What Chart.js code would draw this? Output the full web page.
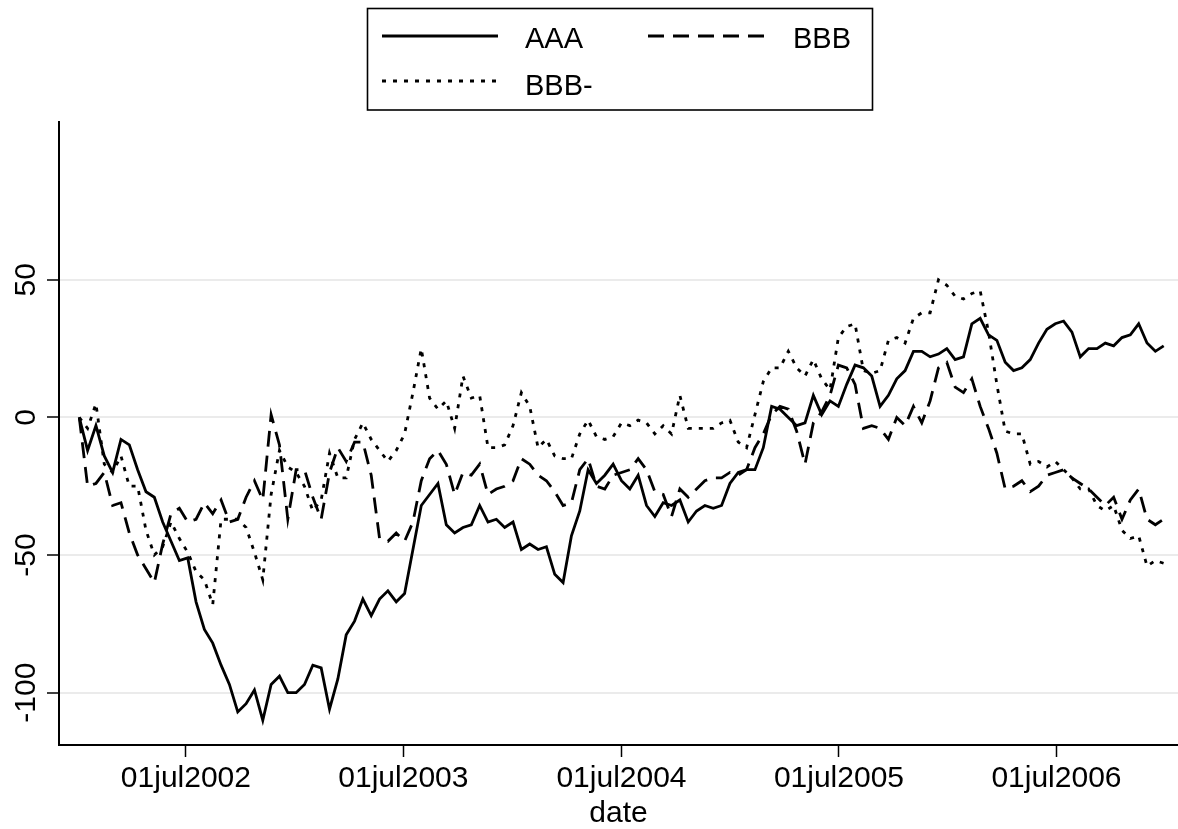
<!DOCTYPE html>
<html>
<head>
<meta charset="utf-8">
<script src="https://cdn.jsdelivr.net/npm/chart.js"></script>
<style>
  body { margin: 0; background: #fff; }
  canvas { display: block; }
</style>
</head>
<body>
<canvas id="spreadChart" width="1178" height="829"></canvas>
<script>
// two-weekly observations, first one on 03jan2002
const startDate = '2002-01-03';
const stepDays = 14;

const aaa = [
  0, -12, -3, -14, -20, -8, -10, -19, -27, -29, -38, -45, -52, -51, -67, -77, -82, -90, -97, -107, -104, -99, -110, -97, -94, -100,
  -100, -97, -90, -91, -106, -95, -79, -74, -66, -72, -66, -63, -67, -64, -48, -32, -28, -24, -39, -42, -40, -39, -32, -38, -37, -40,
  -38, -48, -46, -48, -47, -57, -60, -43, -34, -19, -24, -21, -17, -23, -26, -21, -32, -36, -31, -32, -30, -38, -34, -32, -33, -32,
  -24, -20, -19, -19, -11, 4, 3, 0, -3, -2, 8, 1, 6, 4, 12, 19, 18, 15, 4, 8, 14, 17, 24, 24, 22, 23, 25,
  21, 22, 34, 36, 30, 28, 20, 17, 18, 21, 27, 32, 34, 35, 31, 22, 25, 25, 27, 26, 29, 30, 34, 27, 24, 26
];
const bbb = [
  0, -25, -24, -20, -32, -31, -42, -50, -55, -60, -46, -35, -33, -38, -37, -31, -35, -30, -38, -37, -29, -23, -30, 1, -10, -37,
  -19, -19, -29, -37, -20, -11, -16, -9, -9, -21, -44, -45, -42, -45, -38, -23, -15, -12, -17, -28, -20, -21, -17, -28, -26, -25,
  -23, -15, -17, -21, -23, -27, -32, -31, -19, -15, -25, -26, -21, -20, -19, -15, -19, -27, -28, -36, -26, -29, -26, -23, -22, -22,
  -20, -21, -19, -11, -6, 1, 4, 3, -5, -17, -2, 2, 8, 19, 18, 12, -4, -3, -4, -8, 0, -3, 4, -2, 6, 18, 20,
  11, 9, 14, 4, -4, -13, -26, -25, -23, -27, -25, -21, -20, -19, -22, -24, -26, -29, -32, -29, -37, -30, -26, -37, -39, -37
];
const bbbMinus = [
  0, -4, 5, -17, -20, -14, -25, -25, -41, -50, -47, -38, -44, -49, -56, -59, -68, -37, -37, -37, -40, -49, -59, -28, -12, -18,
  -20, -25, -34, -30, -13, -22, -22, -8, -2, -8, -12, -16, -12, -6, 9, 25, 7, 3, 6, -4, 15, 7, 8, -11, -11, -10,
  -3, 9, 4, -11, -8, -14, -15, -15, -6, -1, -7, -8, -7, -2, -3, -1, -2, -6, -3, -6, 8, -4, -4, -4, -4, -2,
  -1, -9, -11, 1, 13, 18, 18, 24, 18, 15, 21, 14, 10, 29, 33, 34, 17, 16, 17, 28, 29, 27, 36, 38, 38, 50, 48,
  44, 43, 45, 46, 31, 12, -5, -6, -6, -17, -16, -18, -16, -19, -22, -26, -26, -32, -34, -32, -41, -44, -43, -54, -52, -53
];

const xTickDates = ['2002-07-01', '2003-07-01', '2004-07-01', '2005-07-01', '2006-07-01'];
const yTicks = [-100, -50, 0, 50];

const months = ['jan', 'feb', 'mar', 'apr', 'may', 'jun', 'jul', 'aug', 'sep', 'oct', 'nov', 'dec'];
const DAY = 86400000;
const t0 = Date.parse(startDate);
const dates = aaa.map((v, i) => t0 + i * stepDays * DAY);

function stataDate(ms) {
  const d = new Date(ms);
  return String(d.getUTCDate()).padStart(2, '0') + months[d.getUTCMonth()] + d.getUTCFullYear();
}

function points(values) {
  return values.map((v, i) => ({ x: dates[i], y: v }));
}

const font = '"Liberation Sans", Arial, sans-serif';

// stata style legend: framed box above the plot
const legendBox = {
  id: 'legendBox',
  afterDraw(chart) {
    const ctx = chart.ctx;
    const slots = [[382, 36, 525, 48], [648, 36, 793, 48], [382, 81, 525, 95]];
    ctx.save();
    ctx.strokeStyle = '#000';
    ctx.lineWidth = 1.6;
    ctx.strokeRect(367.5, 8.5, 505, 101.5);
    ctx.font = '29px ' + font;
    ctx.fillStyle = '#000';
    chart.data.datasets.forEach((ds, i) => {
      const s = slots[i];
      ctx.beginPath();
      ctx.setLineDash(ds.borderDash || []);
      ctx.lineWidth = ds.borderWidth;
      ctx.moveTo(s[0], s[1]);
      ctx.lineTo(s[0] + 116, s[1]);
      ctx.stroke();
      ctx.setLineDash([]);
      ctx.fillText(ds.label, s[2], s[3]);
    });
    ctx.restore();
  }
};

// y tick labels are rotated in the original
const rotatedYLabels = {
  id: 'rotatedYLabels',
  afterDraw(chart) {
    const ctx = chart.ctx;
    const scale = chart.scales.y;
    ctx.save();
    ctx.font = '30px ' + font;
    ctx.fillStyle = '#000';
    ctx.textAlign = 'center';
    ctx.textBaseline = 'alphabetic';
    scale.ticks.forEach(t => {
      ctx.save();
      ctx.translate(35, scale.getPixelForValue(t.value));
      ctx.rotate(-Math.PI / 2);
      ctx.fillText(String(t.value), 0, 0);
      ctx.restore();
    });
    ctx.restore();
  }
};

const ctx = document.getElementById('spreadChart').getContext('2d');
new Chart(ctx, {
  type: 'line',
  data: {
    datasets: [
      { label: 'AAA', data: points(aaa), borderColor: '#000', borderWidth: 2.8, borderDash: [] },
      { label: 'BBB', data: points(bbb), borderColor: '#000', borderWidth: 2.8, borderDash: [16, 9] },
      { label: 'BBB-', data: points(bbbMinus), borderColor: '#000', borderWidth: 2.8, borderDash: [4, 7] }
    ]
  },
  options: {
    responsive: false,
    animation: false,
    layout: { padding: { top: 122, left: 0, right: 0, bottom: 0 } },
    elements: { point: { radius: 0 }, line: { tension: 0, fill: false } },
    plugins: { legend: { display: false }, tooltip: { enabled: false } },
    scales: {
      x: {
        type: 'linear',
        min: Date.parse('2001-11-30'),
        max: Date.parse('2007-01-21'),
        afterBuildTicks: scale => { scale.ticks = xTickDates.map(d => ({ value: Date.parse(d) })); },
        afterFit: scale => { scale.height = 84; },
        ticks: {
          autoSkip: false, maxRotation: 0, padding: 4, color: '#000',
          font: { family: font, size: 30 },
          callback: value => stataDate(value)
        },
        grid: { drawOnChartArea: false, tickLength: 12, tickColor: '#000', tickWidth: 1.5 },
        border: { color: '#000', width: 2 },
        title: { display: true, text: 'date', color: '#000', padding: 0, font: { family: font, size: 30, lineHeight: 1 } }
      },
      y: {
        min: -119,
        max: 107.3,
        afterBuildTicks: scale => { scale.ticks = yTicks.map(v => ({ value: v })); },
        afterFit: scale => { scale.width = 59; },
        ticks: { display: false },
        grid: { color: '#ebebeb', lineWidth: 2, tickLength: 12, tickColor: '#000', tickWidth: 1.5 },
        border: { color: '#000', width: 2 }
      }
    }
  },
  plugins: [legendBox, rotatedYLabels]
});
</script>
</body>
</html>
